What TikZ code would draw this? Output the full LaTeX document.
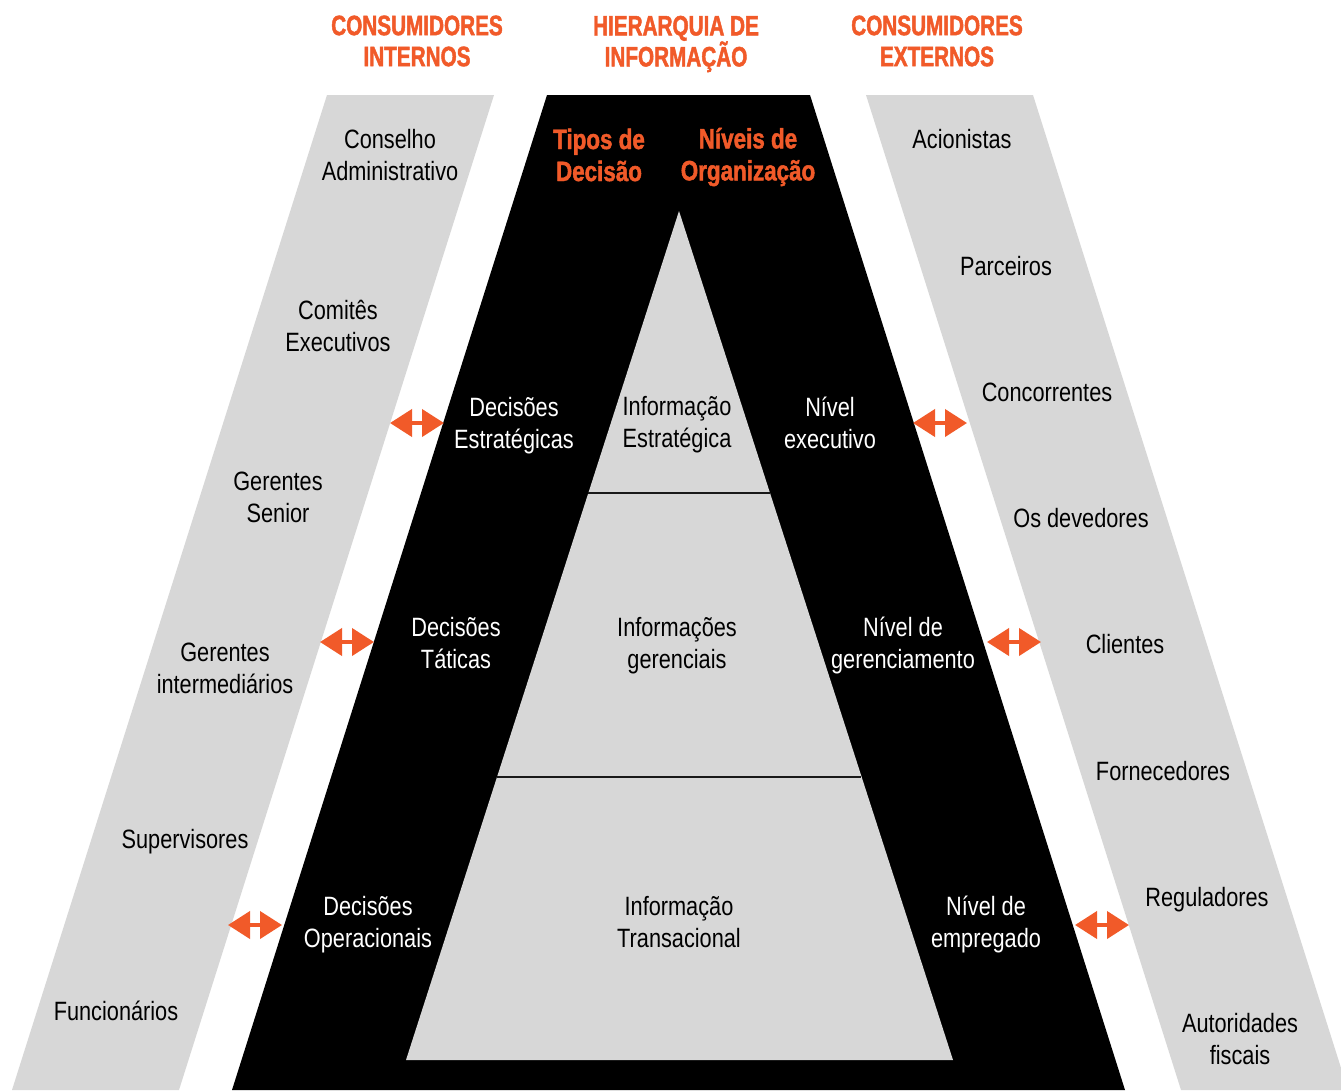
\documentclass[tikz,border=0pt]{standalone}
\usepackage{fontspec}
\setmainfont{Liberation Sans}[FakeStretch=0.82]
\newfontfamily\hdrfont{Liberation Sans}[FakeStretch=0.74,FakeBold=1.6]
\newfontfamily\hdrfontb{Liberation Sans}[FakeStretch=0.80,FakeBold=1.6]
\usetikzlibrary{arrows.meta}
\definecolor{bandgray}{HTML}{D7D7D7}
\definecolor{accent}{HTML}{F15A29}
\tikzset{
  lbl/.style={align=center, font=\fontsize{26.5}{32}\selectfont, inner sep=0pt},
  lbldark/.style={lbl, text=black},
  lbllight/.style={lbl, text=white},
  hdr/.style={align=center, font=\hdrfont\bfseries\fontsize{28}{31}\selectfont, text=accent, inner sep=0pt},
  hdrb/.style={align=center, font=\hdrfontb\bfseries\fontsize{28}{32}\selectfont, text=accent, inner sep=0pt},
  xarrow/.style={draw=accent, line width=4pt, {Triangle[width=27pt,length=22pt,fill=accent]}-{Triangle[width=27pt,length=22pt,fill=accent]}},
  divline/.style={draw=black!90, line width=2.5pt}
}
\begin{document}
\begin{tikzpicture}[x=1pt,y=-1pt]
\useasboundingbox (0,0) rectangle (1341,1090);
\fill[white] (0,0) rectangle (1341,1090);
\clip (0,0) rectangle (1341,1090);
% bands
\fill[bandgray] (327,95) -- (494,95) -- (179,1090) -- (12,1090) -- cycle;
\fill[bandgray] (866,95) -- (1033,95) -- (1348,1090) -- (1181,1090) -- cycle;
\fill[black] (547,95) -- (810,95) -- (1125,1090) -- (232,1090) -- cycle;
\fill[bandgray] (679,211) -- (953,1060) -- (406,1060) -- cycle;
\draw[divline] (588,493) -- (770,493);
\draw[divline] (497,777) -- (861,777);
% headers
\node[hdr] (h1) at (417,41) {CONSUMIDORES\\INTERNOS};
\node[hdr] (h2) at (676,44) {HIERARQUIA DE\\INFORMAÇÃO};
\node[hdr] (h3) at (937,41) {CONSUMIDORES\\EXTERNOS};
\node[hdrb] (h4) at (599,155) {Tipos de\\Decisão};
\node[hdrb] (h5) at (748,157) {Níveis de\\Organização};
% left band
\node[lbldark] (l1) at (390,155) {Conselho\\Administrativo};
\node[lbldark] (l2) at (338,326) {Comitês\\Executivos};
\node[lbldark] (l3) at (278,497) {Gerentes\\Senior};
\node[lbldark] (l4) at (225,668) {Gerentes\\intermediários};
\node[lbldark] (l5) at (185,842) {Supervisores};
\node[lbldark] (l6) at (116,1011) {Funcionários};
% decision types
\node[lbllight] (d1) at (514,426) {Decisões\\Estratégicas};
\node[lbllight] (d2) at (456,643) {Decisões\\Táticas};
\node[lbllight] (d3) at (368,925) {Decisões\\Operacionais};
% information
\node[lbldark] (i1) at (677,425) {Informação\\Estratégica};
\node[lbldark] (i2) at (677,646) {Informações\\gerenciais};
\node[lbldark] (i3) at (679,922) {Informação\\Transacional};
% org levels
\node[lbllight] (o1) at (830,423) {Nível\\executivo};
\node[lbllight] (o2) at (903,645) {Nível de\\gerenciamento};
\node[lbllight] (o3) at (986,924) {Nível de\\empregado};
% right band
\node[lbldark] (r1) at (962,139) {Acionistas};
\node[lbldark] (r2) at (1006,266) {Parceiros};
\node[lbldark] (r3) at (1047,392) {Concorrentes};
\node[lbldark] (r4) at (1081,518) {Os devedores};
\node[lbldark] (r5) at (1125,644) {Clientes};
\node[lbldark] (r6) at (1163,771) {Fornecedores};
\node[lbldark] (r7) at (1207,900) {Reguladores};
\node[lbldark] (r8) at (1240,1039) {Autoridades\\fiscais};
% arrows
\coordinate (aL1a) at (390,423); \coordinate (aL1b) at (444,423);
\coordinate (aL2a) at (320,642); \coordinate (aL2b) at (374,642);
\coordinate (aL3a) at (228,925); \coordinate (aL3b) at (282,925);
\coordinate (aR1a) at (913,423); \coordinate (aR1b) at (967,423);
\coordinate (aR2a) at (987,642); \coordinate (aR2b) at (1041,642);
\coordinate (aR3a) at (1075,925); \coordinate (aR3b) at (1129,925);
\draw[xarrow] (aL1a) -- (aL1b);
\draw[xarrow] (aL2a) -- (aL2b);
\draw[xarrow] (aL3a) -- (aL3b);
\draw[xarrow] (aR1a) -- (aR1b);
\draw[xarrow] (aR2a) -- (aR2b);
\draw[xarrow] (aR3a) -- (aR3b);
\end{tikzpicture}
\end{document}
